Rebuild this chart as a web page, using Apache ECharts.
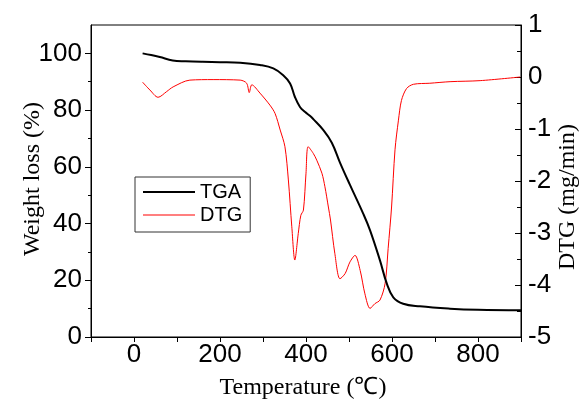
<!DOCTYPE html>
<html>
<head>
<meta charset="utf-8">
<script src="https://cdn.jsdelivr.net/npm/echarts@6/dist/echarts.min.js"></script>
<style>
html,body{margin:0;padding:0;background:#fff;}
#chart{width:582px;height:401px;}
</style>
</head>
<body>
<div id="chart"></div>
<script>
// TGA: temperature (°C) and weight (%)
var tgaTemp = [20, 40, 60, 90, 120, 160, 200, 247, 293, 324, 347, 363, 374, 386, 398, 409, 417, 440, 460, 479, 502, 533, 549, 572, 588, 603, 626, 665, 735, 800, 900];
var tgaWeight = [100, 99.4, 98.7, 97.5, 97.2, 97.0, 96.9, 96.7, 95.9, 94.7, 92.3, 89.4, 84.7, 81.1, 79.3, 78.0, 76.8, 73.0, 68.5, 61.5, 53.7, 43.5, 37.6, 27, 18.8, 14, 11.7, 10.8, 10.0, 9.6, 9.4];
// DTG: temperature (°C) and rate (mg/min)
var dtgTemp = [20, 37, 56, 76, 91, 130, 184, 247, 262, 268, 274, 293, 316, 328, 340, 351, 359, 367, 374, 382, 388, 394, 400, 405, 417, 425, 437, 444, 452, 457, 467, 479, 491, 502, 514, 526, 537, 549, 560, 572, 584, 591, 599, 607, 615, 622, 634, 650, 688, 735, 805, 898];
var dtgRate = [-0.10, -0.25, -0.39, -0.28, -0.19, -0.06, -0.05, -0.06, -0.12, -0.30, -0.15, -0.31, -0.54, -0.70, -1.02, -1.34, -1.98, -2.88, -3.52, -3.01, -2.66, -2.56, -1.85, -1.34, -1.47, -1.60, -1.85, -2.11, -2.50, -2.75, -3.39, -3.88, -3.78, -3.56, -3.43, -3.72, -4.17, -4.45, -4.36, -4.29, -3.97, -3.30, -2.50, -1.40, -0.83, -0.45, -0.22, -0.14, -0.12, -0.09, -0.07, 0.0];
// Tick labels
var xLabels = [0, 200, 400, 600, 800];
var xTicks = [-100, 0, 100, 200, 300, 400, 500, 600, 700, 800, 900];
var leftLabels = [0, 20, 40, 60, 80, 100];
var leftMinor = [10, 30, 50, 70, 90];

function pairs(xs, ys) { return xs.map(function (x, i) { return [x, ys[i]]; }); }

var chart = echarts.init(document.getElementById('chart'), null, {renderer: 'canvas'});
var labelFont = {fontFamily: '"Liberation Sans", Arial, sans-serif', fontSize: 26, color: '#000'};
var titleFont = '24px "Liberation Serif", "Times New Roman", serif';

chart.setOption({
  backgroundColor: '#fff',
  animation: false,
  grid: {left: 91, right: 61, top: 25, bottom: 64, show: true, borderColor: '#000', borderWidth: 1, backgroundColor: 'transparent'},
  legend: {
    orient: 'vertical', left: 135, top: 177,
    padding: [5, 8, 7, 8], itemGap: 3, itemWidth: 52, itemHeight: 2,
    borderColor: '#333', borderWidth: 1,
    textStyle: {fontFamily: '"Liberation Sans", Arial, sans-serif', fontSize: 20, color: '#000', lineHeight: 20},
    data: [{name: 'TGA', icon: 'rect'}, {name: 'DTG', icon: 'path://M0,0H52V1H0Z'}]
  },
  xAxis: {
    type: 'value', min: -100, max: 900, interval: 100,
    axisLine: {show: true, onZero: false, lineStyle: {color: '#000', width: 1}},
    axisTick: {show: true, length: 5, customValues: xTicks, lineStyle: {color: '#000'}},
    axisLabel: Object.assign({margin: 5, customValues: xLabels}, labelFont),
    splitLine: {show: false}
  },
  yAxis: [
    {
      type: 'value', position: 'left', min: 0, max: 110, interval: 10,
      axisLine: {show: true, onZero: false, lineStyle: {color: '#000', width: 1}},
      axisTick: {show: true, length: 6, customValues: leftLabels, lineStyle: {color: '#000'}},
      axisLabel: Object.assign({margin: 9, customValues: leftLabels}, labelFont),
      splitLine: {show: false}
    },
    {
      type: 'value', position: 'right', min: -5, max: 1, interval: 1,
      axisLine: {show: true, onZero: false, lineStyle: {color: '#000', width: 1}},
      axisTick: {show: true, inside: true, length: 6, lineStyle: {color: '#000'}},
      minorTick: {show: true, splitNumber: 2, length: 4, lineStyle: {color: '#000'}},
      axisLabel: Object.assign({margin: 7}, labelFont),
      splitLine: {show: false}, minorSplitLine: {show: false}
    },
    {
      type: 'value', position: 'left', min: 0, max: 110, interval: 10,
      axisLine: {show: false, onZero: false},
      axisTick: {show: true, length: 3, customValues: leftMinor, lineStyle: {color: '#000'}},
      axisLabel: {show: false},
      splitLine: {show: false}
    }
  ],
  series: [
    {
      name: 'TGA', type: 'line', yAxisIndex: 0, data: pairs(tgaTemp, tgaWeight),
      smooth: 0.4, symbol: 'none', lineStyle: {color: '#000', width: 2}, itemStyle: {color: '#000'}, z: 3
    },
    {
      name: 'DTG', type: 'line', yAxisIndex: 1, data: pairs(dtgTemp, dtgRate),
      smooth: 0.3, symbol: 'none', lineStyle: {color: '#f00', width: 1}, itemStyle: {color: '#f00'}, z: 2
    }
  ],
  graphic: [
    {type: 'text', x: 33, y: 179, rotation: Math.PI / 2,
     style: {text: 'Weight loss (%)', font: titleFont, fill: '#000', textAlign: 'center', textVerticalAlign: 'middle'}},
    {type: 'text', x: 568, y: 197, rotation: Math.PI / 2,
     style: {text: 'DTG (mg/min)', font: titleFont, fill: '#000', textAlign: 'center', textVerticalAlign: 'middle'}},
    {type: 'text', x: 303, y: 388,
     style: {text: 'Temperature (℃)', font: titleFont, fill: '#000', textAlign: 'center', textVerticalAlign: 'middle'}}
  ]
});
</script>
</body>
</html>
